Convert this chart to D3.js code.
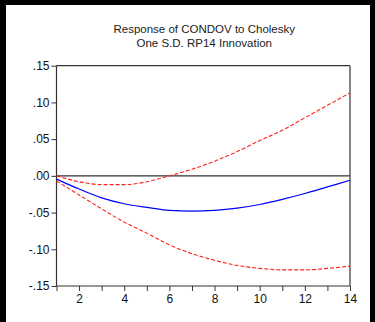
<!DOCTYPE html>
<html><head><meta charset="utf-8">
<script src="https://cdn.jsdelivr.net/npm/d3@7"></script>
<style>html,body{margin:0;padding:0;background:#000;}svg{display:block;}</style>
</head><body>
<script>
const periods = [1,2,3,4,5,6,7,8,9,10,11,12,13,14];
const response = [-0.0045,-0.018,-0.030,-0.038,-0.043,-0.047,-0.048,-0.047,-0.044,-0.039,-0.032,-0.024,-0.015,-0.006];
const upperBand = [0.000,-0.008,-0.012,-0.012,-0.008,0.000,0.009,0.020,0.033,0.048,0.062,0.079,0.096,0.113];
const lowerBand = [-0.007,-0.026,-0.045,-0.063,-0.078,-0.094,-0.106,-0.115,-0.122,-0.126,-0.128,-0.128,-0.126,-0.123];
const yTicks = [-0.15,-0.10,-0.05,0.00,0.05,0.10,0.15];
const yTickLabels = ["-.15","-.10","-.05",".00",".05",".10",".15"];
const xTickLabels = ["2","4","6","8","10","12","14"];
const titleLines = ["Response of CONDOV to Cholesky","One S.D. RP14 Innovation"];

const W = 375, H = 322;
const svg = d3.select("body").append("svg").attr("width", W).attr("height", H);
svg.append("rect").attr("width", W).attr("height", H).attr("fill", "#000");
svg.append("rect").attr("x", 6).attr("y", 5).attr("width", 364).attr("height", H - 5).attr("fill", "#fff");

const m = {left: 56.5, right: 350, top: 65.7, bottom: 286};
const x = d3.scaleLinear().domain([1, 14]).range([m.left, m.right]);
const y = d3.scaleLinear().domain([-0.15, 0.15]).range([m.bottom, m.top]);
const font = "Arial, 'Liberation Sans', sans-serif";

svg.append("g").selectAll("text").data(titleLines).join("text")
  .attr("x", (m.left + m.right) / 2 + 1).attr("y", (d, i) => 33 + i * 14)
  .attr("text-anchor", "middle").attr("font-family", font).attr("font-size", 11.5)
  .attr("fill", "#222").text(d => d);

// frame
svg.append("line").attr("x1", m.left).attr("x2", m.right).attr("y1", m.top).attr("y2", m.top).attr("stroke", "#000").attr("stroke-width", 1);
svg.append("line").attr("x1", m.right).attr("x2", m.right).attr("y1", m.top).attr("y2", m.bottom).attr("stroke", "#666").attr("stroke-width", 1.6);

// zero line
svg.append("line").attr("x1", m.left).attr("x2", m.right).attr("y1", y(0)).attr("y2", y(0)).attr("stroke", "#333").attr("stroke-width", 1.2);

// y axis
const yAxis = d3.axisLeft(y).tickValues(yTicks).tickFormat((d, i) => yTickLabels[i]).tickSize(5).tickPadding(2);
const gy = svg.append("g").attr("transform", `translate(${m.left},0)`).call(yAxis);
// x axis
const xAxis = d3.axisBottom(x).tickValues(periods).tickFormat(d => xTickLabels.includes(String(d)) ? String(d) : "").tickSize(5).tickPadding(3);
const gx = svg.append("g").attr("transform", `translate(0,${m.bottom})`).call(xAxis);
[gx, gy].forEach(g => {
  g.select(".domain").attr("stroke", "#333").attr("stroke-width", 1.2);
  g.selectAll(".tick line").attr("stroke", "#333");
  g.selectAll("text").attr("font-family", font).attr("font-size", 12).attr("fill", "#111");
});
gx.select(".domain").attr("d", `M${m.left},0H${m.right}`);
gy.select(".domain").attr("d", `M0,${m.top}V${m.bottom}`);

const line = d3.line().x((d, i) => x(periods[i])).y(d => y(d)).curve(d3.curveMonotoneX);
svg.append("path").datum(upperBand).attr("d", line).attr("fill", "none").attr("stroke", "#ff2020").attr("stroke-width", 1.1).attr("stroke-dasharray", "4,2");
svg.append("path").datum(lowerBand).attr("d", line).attr("fill", "none").attr("stroke", "#ff2020").attr("stroke-width", 1.1).attr("stroke-dasharray", "4,2");
svg.append("path").datum(response).attr("d", line).attr("fill", "none").attr("stroke", "#0000ff").attr("stroke-width", 1.2);
</script>
</body></html>
